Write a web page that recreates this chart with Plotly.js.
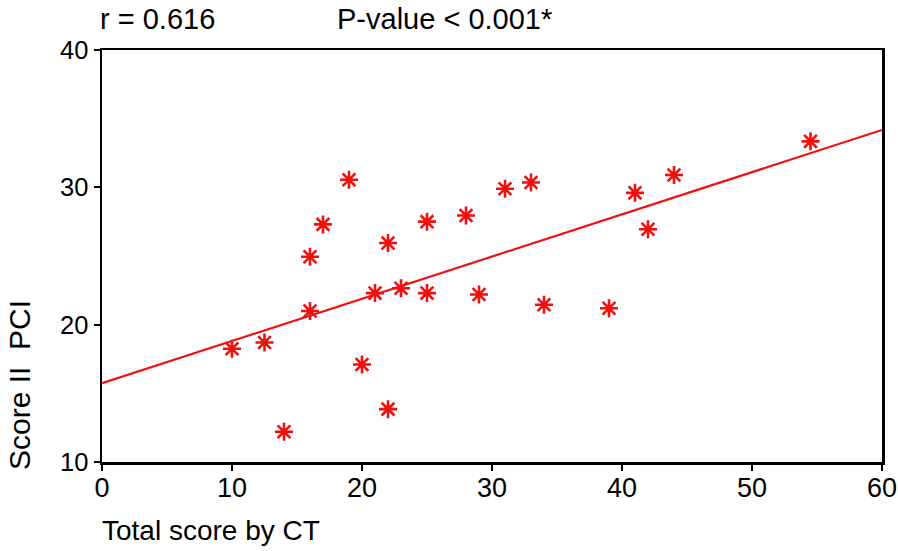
<!DOCTYPE html>
<html>
<head>
<meta charset="utf-8">
<script src="https://cdn.plot.ly/plotly-3.0.1.min.js"></script>
<style>
  html, body { margin: 0; padding: 0; background: #fff; }
  #chart { width: 898px; height: 551px; }
</style>
</head>
<body>
<div id="chart"></div>
<script>
// Data
const ctScore = [10, 12.5, 14, 16, 16, 17, 19, 20, 21, 22, 22, 23, 25, 25, 28, 29, 31, 33, 34, 39, 41, 42, 44, 54.5];
const pciScore = [18.25, 18.7, 12.2, 24.95, 21.0, 27.3, 30.55, 17.1, 22.3, 25.95, 13.85, 22.65, 27.5, 22.3, 27.95, 22.2, 29.9, 30.35, 21.45, 21.2, 29.6, 26.95, 30.9, 33.35];
const fitX = [0, 60];
const fitY = [15.74, 34.18];
const xTicks = [0, 10, 20, 30, 40, 50, 60];
const yTicks = [10, 20, 30, 40];
const rText = "r = 0.616";
const pText = "P-value < 0.001*";
const xTitle = "Total score by CT";
const yTitle = "Score II\u00A0\u00A0PCI";

const red = '#f01010';
const font = 'Liberation Sans, Arial, sans-serif';

const traces = [
  {
    x: fitX, y: fitY, type: 'scatter', mode: 'lines',
    line: { color: red, width: 2.2 }, hoverinfo: 'skip'
  },
  {
    x: ctScore, y: pciScore, type: 'scatter', mode: 'markers',
    marker: { symbol: 'asterisk-open', size: 15, color: red, line: { color: red, width: 2.6 } }
  }
];

const axisCommon = {
  showgrid: false, zeroline: false,
  showline: true, linecolor: '#000', linewidth: 2.5, mirror: true,
  ticks: 'outside', ticklen: 6, tickwidth: 2, tickcolor: '#000',
  ticklabeloverflow: 'allow', automargin: false
};

const layout = {
  width: 898, height: 551,
  margin: { l: 102, r: 16, t: 50, b: 89 },
  paper_bgcolor: '#fff', plot_bgcolor: '#fff',
  showlegend: false,
  font: { family: font, color: '#000' },
  xaxis: Object.assign({}, axisCommon, {
    range: [0, 60], tickmode: 'array', tickvals: xTicks, ticktext: xTicks.map(String),
    tickfont: { family: font, size: 27, color: '#000' }, ticklabelstandoff: -6
  }),
  yaxis: Object.assign({}, axisCommon, {
    range: [10, 40], tickmode: 'array', tickvals: yTicks, ticktext: yTicks.map(String),
    tickfont: { family: font, size: 25.5, color: '#000' }
  }),
  annotations: [
    { text: rText, xref: 'paper', yref: 'paper', x: -0.004, y: 1.076, xanchor: 'left', yanchor: 'middle',
      showarrow: false, borderpad: 0, font: { family: font, size: 29, color: '#000' } },
    { text: pText, xref: 'paper', yref: 'paper', x: 0.300, y: 1.076, xanchor: 'left', yanchor: 'middle',
      showarrow: false, borderpad: 0, font: { family: font, size: 29, color: '#000' } },
    { text: xTitle, xref: 'paper', yref: 'paper', x: -0.002, y: -0.167, xanchor: 'left', yanchor: 'middle',
      showarrow: false, font: { family: font, size: 28, color: '#000' } },
    { text: yTitle, xref: 'paper', yref: 'paper', x: -0.105, y: 0.187, xanchor: 'center', yanchor: 'middle',
      textangle: -90, showarrow: false, font: { family: font, size: 30, color: '#000' } }
  ]
};

Plotly.newPlot('chart', traces, layout, { displayModeBar: false, staticPlot: true });
</script>
</body>
</html>
